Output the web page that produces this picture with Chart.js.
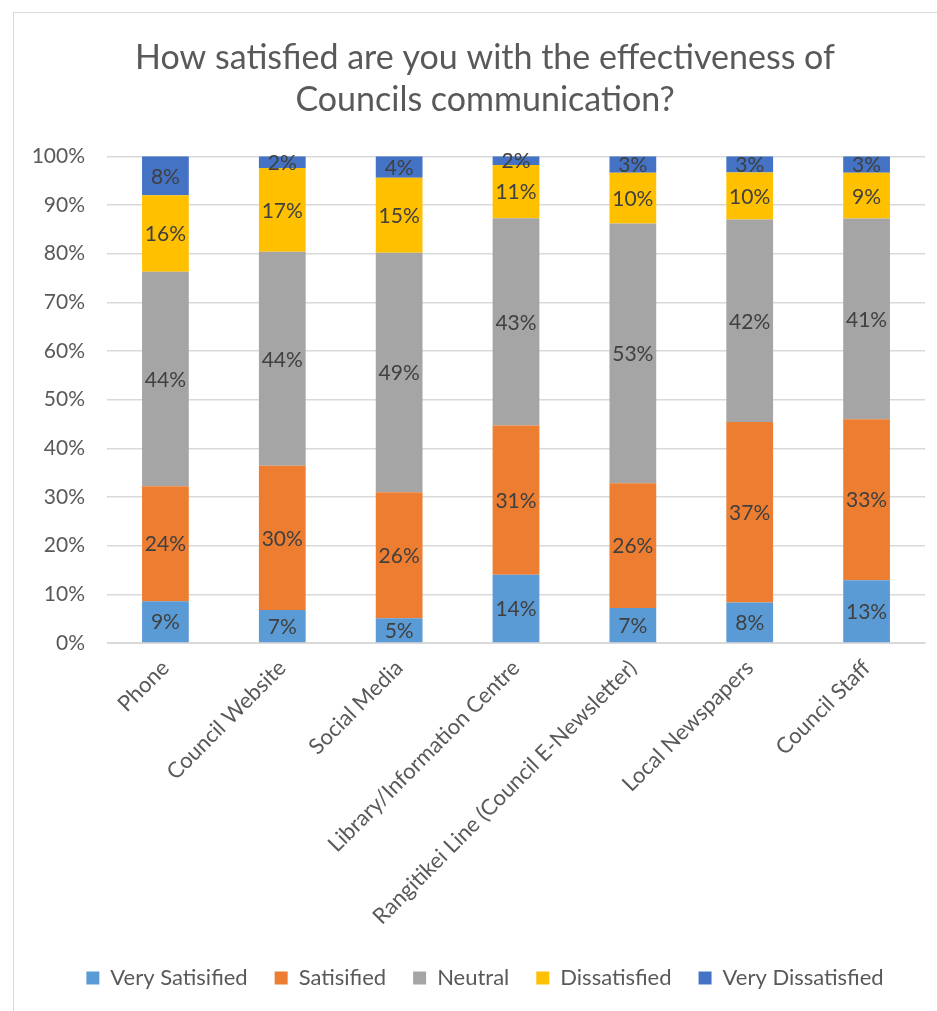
<!DOCTYPE html>
<html>
<head>
<meta charset="utf-8">
<script src="https://cdn.jsdelivr.net/npm/chart.js@4/dist/chart.umd.min.js"></script>
<style>
  html, body { margin: 0; padding: 0; background: #fff; overflow: hidden; }
  .frame { position: absolute; left: 13px; top: 12px; width: 1000px; height: 1100px; border: 1px solid #d9d9d9; }
  #wrap { position: absolute; left: 0; top: 0; width: 937px; height: 1011px; overflow: hidden; }
</style>
</head>
<body>
<div class="frame"></div>
<div id="wrap"><canvas id="chart" width="970" height="1011"></canvas></div>
<script>
// ── Survey data (percent of respondents) ──
const channels = ['Phone', 'Council Website', 'Social Media', 'Library/Information Centre',
                  'Rangitikei Line (Council E-Newsletter)', 'Local Newspapers', 'Council Staff'];
const verySatisfied    = [8.6, 6.8, 5.1, 14.0, 7.2, 8.3, 12.9];
const satisfied        = [23.6, 29.6, 25.9, 30.7, 25.6, 37.1, 33.1];
const neutral          = [44.1, 44.0, 49.2, 42.6, 53.4, 41.6, 41.2];
const dissatisfied     = [15.7, 17.2, 15.4, 10.9, 10.4, 9.7, 9.4];
const veryDissatisfied = [8.0, 2.4, 4.4, 1.8, 3.4, 3.3, 3.4];
const yTicks = [0, 10, 20, 30, 40, 50, 60, 70, 80, 90, 100];

const FONT = 'Lato, "Open Sans", sans-serif';

// ── Value labels in the middle of each segment ──
const segmentLabels = {
    id: 'segmentLabels',
    afterDatasetsDraw(chart) {
        const c = chart.ctx;
        c.save();
        c.font = '21px ' + FONT;
        c.fillStyle = '#404040';
        c.textAlign = 'center';
        c.textBaseline = 'middle';
        chart.data.datasets.forEach((ds, i) => {
            chart.getDatasetMeta(i).data.forEach((bar, j) => {
                c.fillText(Math.round(ds.data[j]) + '%', bar.x, (bar.y + bar.base) / 2 + 1);
            });
        });
        c.restore();
    }
};

function series(label, data, color) {
    return { label, data, backgroundColor: color, borderWidth: 0, stack: 's',
             barPercentage: 0.4, categoryPercentage: 1 };
}

new Chart(document.getElementById('chart').getContext('2d'), {
    type: 'bar',
    data: {
        labels: channels,
        datasets: [
            series('Very Satisified', verySatisfied, '#5b9bd5'),
            series('Satisified', satisfied, '#ed7d31'),
            series('Neutral', neutral, '#a5a5a5'),
            series('Dissatisfied', dissatisfied, '#ffc000'),
            series('Very Dissatisfied', veryDissatisfied, '#4472c4')
        ]
    },
    plugins: [segmentLabels],
    options: {
        responsive: false,
        animation: false,
        devicePixelRatio: 1,
        layout: { padding: { left: 14, right: 14, top: 14, bottom: 12 } },
        plugins: {
            title: {
                display: true,
                text: ['How satisfied are you with the effectiveness of', 'Councils communication?'],
                color: '#595959',
                font: { family: FONT, size: 34, weight: 'normal', lineHeight: 1.24 },
                padding: { top: 23, bottom: 35 }
            },
            legend: {
                position: 'bottom',
                labels: {
                    boxWidth: 13,
                    boxHeight: 13,
                    padding: 27,
                    color: '#595959',
                    font: { family: FONT, size: 22 }
                }
            },
            tooltip: { enabled: false }
        },
        scales: {
            x: {
                stacked: true,
                grid: { display: false },
                border: { color: '#d9d9d9' },
                ticks: {
                    color: '#595959',
                    font: { family: FONT, size: 22 },
                    minRotation: 45,
                    maxRotation: 45,
                    padding: 4
                },
                afterFit: s => { s.height = 297; }
            },
            y: {
                stacked: true,
                min: 0,
                max: 100,
                afterBuildTicks: s => { s.ticks = yTicks.map(v => ({ value: v })); },
                grid: { color: '#d9d9d9', lineWidth: 1.5, drawTicks: false },
                border: { display: false },
                ticks: {
                    color: '#595959',
                    font: { family: FONT, size: 21 },
                    padding: 22,
                    callback: v => v + '%'
                },
                afterFit: s => { s.width = 93; }
            },
            // empty right-hand margin so the title and legend sit centred in the frame
            spacer: {
                position: 'right',
                grid: { display: false },
                border: { display: false },
                ticks: { display: false },
                afterFit: s => { s.width = 31; }
            }
        }
    }
});
</script>
</body>
</html>
